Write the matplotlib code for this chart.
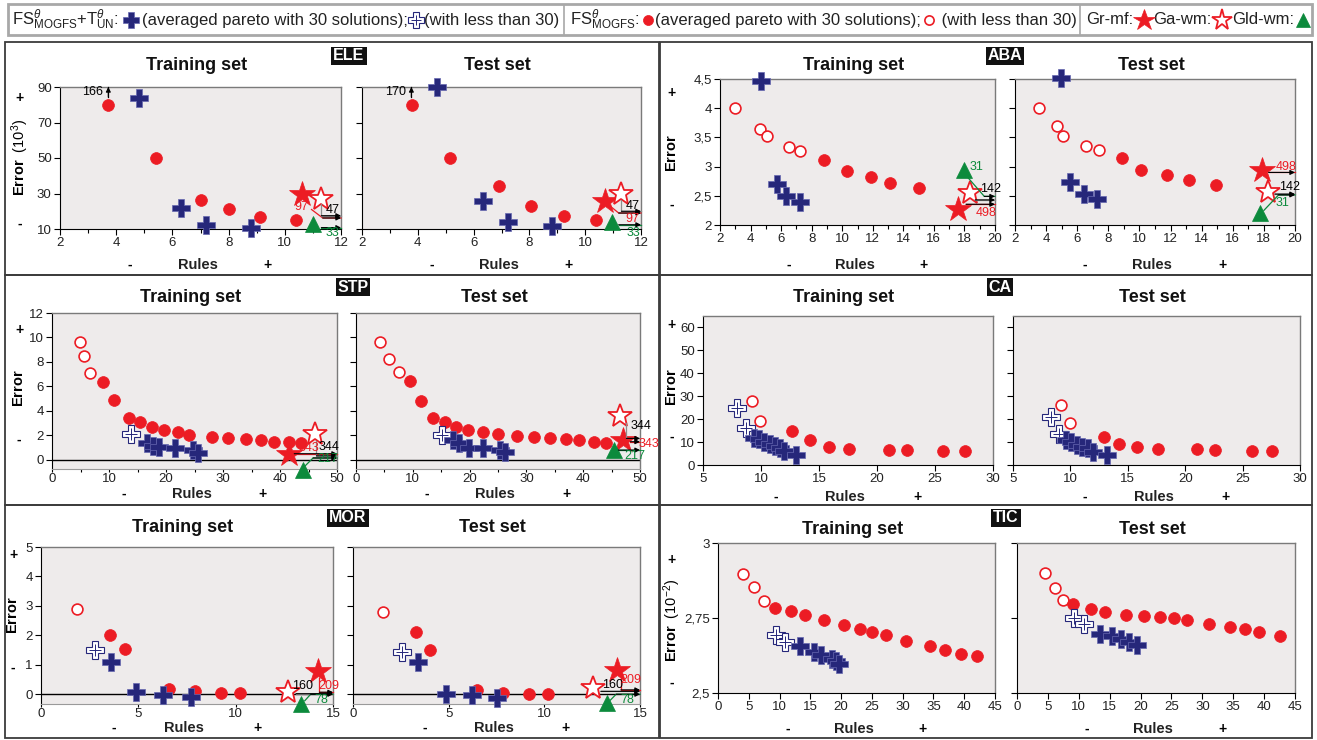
import matplotlib
matplotlib.use('Agg')
import matplotlib.pyplot as plt
from matplotlib.patches import Rectangle
from matplotlib.ticker import MultipleLocator, FuncFormatter

plt.rcParams['font.family'] = ['Liberation Sans', 'DejaVu Sans']
plt.rcParams['mathtext.fontset'] = 'custom'
plt.rcParams['mathtext.rm'] = 'Liberation Sans'
plt.rcParams['mathtext.it'] = 'Liberation Sans:italic'
plt.rcParams['mathtext.bf'] = 'Liberation Sans:bold'

W, H = 1317, 740
RED = '#ec1c24'
NAVY = '#26277a'
GREEN = '#0c8a3c'
GRAY = '#8c8c8c'
BG = '#eeebeb'

# ---- data: (rules, error) pairs ----
# FS_MOGFS filled (30 solutions) / open (less than 30)
# FS_MOGFS+TUN filled crosses / open crosses
# REF = Gr-mf, Ga-wm, Gld-wm
ELE_TR_FS = [(3.7, 80), (5.4, 50), (7.0, 26.5), (8.0, 21), (9.1, 17), (10.4, 15)]
ELE_TR_TUN = [(4.8, 84), (6.3, 22), (7.2, 12), (8.8, 10.5)]
ELE_TR_REF = [(10.6, 30), (11.3, 27), (11.0, 13)]
ELE_TE_FS = [(3.8, 80), (5.15, 50), (6.9, 34), (8.05, 23), (9.25, 17.5), (10.4, 15)]
ELE_TE_TUN = [(4.7, 90), (6.35, 26), (7.25, 14), (8.8, 11.5)]
ELE_TE_REF = [(10.7, 26), (11.3, 30), (10.95, 14)]

ABA_TR_FS_OPEN = [(3.0, 4.0), (4.65, 3.64), (5.05, 3.53), (6.5, 3.34), (7.25, 3.26)]
ABA_TR_FS = [(8.8, 3.12), (10.3, 2.93), (11.9, 2.82), (13.15, 2.72), (15.05, 2.64)]
ABA_TR_TUN = [(4.7, 4.46), (5.7, 2.7), (6.35, 2.5), (7.25, 2.39)]
ABA_TR_REF = [(17.6, 2.28), (18.35, 2.55), (18.0, 2.95)]
ABA_TE_FS_OPEN = [(3.55, 4.0), (4.7, 3.69), (5.1, 3.52), (6.55, 3.36), (7.4, 3.28)]
ABA_TE_FS = [(8.9, 3.14), (10.1, 2.94), (11.8, 2.85), (13.2, 2.77), (14.95, 2.68)]
ABA_TE_TUN = [(4.95, 4.52), (5.55, 2.74), (6.45, 2.53), (7.25, 2.44)]
ABA_TE_REF = [(17.85, 2.94), (18.25, 2.57), (17.75, 2.21)]

STP_TR_FS_OPEN = [(4.9, 9.64), (5.65, 8.47), (6.75, 7.1)]
STP_TR_FS = [(8.9, 6.32), (10.8, 4.85), (13.5, 3.39), (15.5, 3.06), (17.5, 2.65), (19.6, 2.43),
             (22.1, 2.3), (24.0, 2.03), (28.0, 1.84), (30.9, 1.77), (34.0, 1.71), (36.6, 1.62),
             (39.0, 1.49), (41.6, 1.44), (43.6, 1.41)]
STP_TR_TUN_OPEN = [(13.9, 2.09)]
STP_TR_TUN = [(16.6, 1.41), (17.7, 1.17), (18.8, 1.03), (21.6, 0.95), (24.7, 0.82), (25.7, 0.54)]
STP_TR_REF = [(41.6, 0.46), (46.1, 2.09), (44.1, -0.82)]
STP_TE_FS_OPEN = [(4.3, 9.64), (5.75, 8.28), (7.5, 7.14)]
STP_TE_FS = [(9.55, 6.43), (11.4, 4.8), (13.6, 3.39), (15.65, 3.06), (17.65, 2.65), (19.7, 2.43),
             (22.4, 2.3), (25.0, 2.1), (28.3, 1.95), (31.25, 1.84), (34.2, 1.77), (37.0, 1.71),
             (39.3, 1.62), (41.9, 1.49), (44.0, 1.41)]
STP_TE_TUN_OPEN = [(15.1, 2.0)]
STP_TE_TUN = [(17.1, 1.62), (18.2, 1.35), (19.85, 1.0), (22.4, 0.95), (25.4, 0.82), (26.3, 0.6)]
STP_TE_REF = [(47.05, 1.62), (46.5, 3.6), (45.4, 0.82)]

CA_TR_FS_OPEN = [(9.25, 28.1), (9.95, 19.2)]
CA_TR_FS = [(12.65, 14.9), (14.2, 11.1), (15.9, 7.9), (17.6, 7.1), (21.0, 6.7), (22.6, 6.4),
            (25.7, 6.3), (27.55, 6.1)]
CA_TR_TUN_OPEN = [(7.9, 25.0), (8.75, 16.0)]
CA_TR_TUN = [(9.4, 11.8), (9.85, 11.2), (10.25, 10.0), (10.75, 9.3), (11.2, 8.3), (11.6, 7.6),
             (11.95, 6.1), (13.0, 4.4)]
CA_TE_FS_OPEN = [(9.2, 26.2), (10.0, 18.5)]
CA_TE_FS = [(12.9, 12.1), (14.25, 9.0), (15.8, 8.0), (17.6, 7.1), (21.0, 6.8), (22.6, 6.5),
            (25.8, 6.1), (27.6, 6.0)]
CA_TE_TUN_OPEN = [(8.35, 21.1), (9.0, 13.4)]
CA_TE_TUN = [(9.6, 10.9), (10.05, 10.2), (10.55, 8.7), (11.0, 8.0), (11.5, 7.3), (12.0, 5.8),
             (13.2, 4.4)]

MOR_TR_FS_OPEN = [(1.85, 2.9)]
MOR_TR_FS = [(3.55, 2.02), (4.3, 1.54), (6.6, 0.17), (7.9, 0.11), (9.25, 0.06), (10.2, 0.06)]
MOR_TR_TUN_OPEN = [(2.75, 1.49)]
MOR_TR_TUN = [(3.6, 1.09), (4.9, 0.09), (6.25, -0.02), (7.7, -0.08)]
MOR_TR_REF = [(14.25, 0.79), (12.7, 0.09), (13.35, -0.34)]
MOR_TE_FS_OPEN = [(1.55, 2.79)]
MOR_TE_FS = [(3.3, 2.1), (4.05, 1.5), (6.5, 0.13), (7.85, 0.06), (9.2, 0.02), (10.2, 0.0)]
MOR_TE_TUN_OPEN = [(2.55, 1.43)]
MOR_TE_TUN = [(3.4, 1.08), (4.85, 0.02), (6.2, -0.01), (7.55, -0.12)]
MOR_TE_REF = [(13.8, 0.83), (12.55, 0.23), (13.25, -0.3)]

TIC_TR_FS_OPEN = [(4.1, 2.898), (5.9, 2.853), (7.4, 2.806)]
TIC_TR_FS = [(9.2, 2.784), (11.8, 2.772), (14.1, 2.759), (17.3, 2.742), (20.4, 2.726),
             (23.1, 2.714), (24.95, 2.703), (27.3, 2.692), (30.6, 2.672), (34.5, 2.657),
             (36.85, 2.642), (39.4, 2.631), (42.15, 2.622)]
TIC_TR_TUN_OPEN = [(9.5, 2.692), (10.9, 2.67)]
TIC_TR_TUN = [(13.4, 2.657), (15.6, 2.637), (16.8, 2.626), (18.5, 2.614), (19.2, 2.606), (19.7, 2.598)]
TIC_TE_FS_OPEN = [(4.6, 2.9), (6.15, 2.85), (7.45, 2.811)]
TIC_TE_FS = [(9.0, 2.798), (12.05, 2.779), (14.2, 2.77), (17.65, 2.761), (20.5, 2.757),
             (23.2, 2.753), (25.45, 2.751), (27.5, 2.742), (31.1, 2.731), (34.5, 2.72),
             (36.95, 2.712), (39.25, 2.703), (42.5, 2.689)]
TIC_TE_TUN_OPEN = [(9.2, 2.75), (10.9, 2.731)]
TIC_TE_TUN = [(13.4, 2.698), (15.4, 2.689), (16.9, 2.679), (18.1, 2.67), (19.5, 2.661)]

# (fs_full, fs_open, tun_full, tun_open, ref) for training and test
SETS = {
    'ELE': [(ELE_TR_FS, [], ELE_TR_TUN, [], ELE_TR_REF), (ELE_TE_FS, [], ELE_TE_TUN, [], ELE_TE_REF)],
    'ABA': [(ABA_TR_FS, ABA_TR_FS_OPEN, ABA_TR_TUN, [], ABA_TR_REF),
            (ABA_TE_FS, ABA_TE_FS_OPEN, ABA_TE_TUN, [], ABA_TE_REF)],
    'STP': [(STP_TR_FS, STP_TR_FS_OPEN, STP_TR_TUN, STP_TR_TUN_OPEN, STP_TR_REF),
            (STP_TE_FS, STP_TE_FS_OPEN, STP_TE_TUN, STP_TE_TUN_OPEN, STP_TE_REF)],
    'CA': [(CA_TR_FS, CA_TR_FS_OPEN, CA_TR_TUN, CA_TR_TUN_OPEN, []),
           (CA_TE_FS, CA_TE_FS_OPEN, CA_TE_TUN, CA_TE_TUN_OPEN, [])],
    'MOR': [(MOR_TR_FS, MOR_TR_FS_OPEN, MOR_TR_TUN, MOR_TR_TUN_OPEN, MOR_TR_REF),
            (MOR_TE_FS, MOR_TE_FS_OPEN, MOR_TE_TUN, MOR_TE_TUN_OPEN, MOR_TE_REF)],
    'TIC': [(TIC_TR_FS, TIC_TR_FS_OPEN, TIC_TR_TUN, TIC_TR_TUN_OPEN, []),
            (TIC_TE_FS, TIC_TE_FS_OPEN, TIC_TE_TUN, TIC_TE_TUN_OPEN, [])],
}

# off-scale labels: text, text colour, text pos, ha, line colour, path
NOTES = {
    ('ELE', 0): [('166', 'k', (3.55, 87), 'right', 'k', [(3.72, 84.5), (3.72, 90)]),
                 ('97', RED, (10.6, 22.5), 'center', RED, [(10.95, 21), (11.35, 16.2), (12, 16.2)]),
                 ('47', 'k', (11.45, 20.5), 'left', GRAY, [(11.3, 24), (11.3, 17.5), (12, 17.5)]),
                 ('33', GREEN, (11.7, 7.6), 'center', GREEN, [(11.3, 10.8), (12, 10.8)])],
    ('ELE', 1): [('170', 'k', (3.2, 87), 'center', 'k', [(3.77, 84.5), (3.77, 90)]),
                 ('47', 'k', (11.45, 23), 'left', GRAY, [(11.3, 26.5), (11.3, 20), (12, 20)]),
                 ('97', RED, (11.45, 15.5), 'left', RED, [(10.85, 23.5), (11.2, 19), (12, 19)]),
                 ('33', GREEN, (11.5, 8.0), 'left', GREEN, [(11.2, 12.4), (12, 12.4)])],
    ('ABA', 0): [('31', GREEN, (18.35, 3.0), 'left', GREEN, [(18.1, 2.85), (19.3, 2.49), (20, 2.49)]),
                 ('142', 'k', (19.05, 2.61), 'left', GRAY, [(18.7, 2.43), (20, 2.43)]),
                 ('498', RED, (18.75, 2.2), 'left', RED, [(18.1, 2.355), (20, 2.355)])],
    ('ABA', 1): [('498', RED, (18.75, 3.0), 'left', RED, [(18.3, 2.9), (20, 2.9)]),
                 ('142', 'k', (19.0, 2.65), 'left', GRAY, [(18.7, 2.53), (20, 2.53)]),
                 ('31', GREEN, (18.75, 2.37), 'left', GREEN, [(18.0, 2.25), (18.94, 2.515), (20, 2.515)])],
    ('STP', 0): [('343', RED, (43.2, 1.0), 'left', RED, [(42.5, 0.5), (50, 0.5)]),
                 ('344', 'k', (46.8, 1.05), 'left', GRAY, [(46.4, 1.5), (46.4, 0.33), (50, 0.33)]),
                 ('217', GREEN, (46.6, 0.05), 'left', GREEN, [(44.4, -0.5), (45.8, 0.15), (50, 0.15)])],
    ('STP', 1): [('344', 'k', (48.4, 2.75), 'left', GRAY, [(47.6, 3.0), (47.6, 1.75), (50, 1.75)]),
                 ('343', RED, (49.8, 1.3), 'left', RED, [(48.3, 1.48), (50, 1.48)]),
                 ('217', GREEN, (47.3, 0.3), 'left', GREEN, [(46.2, 0.8), (50, 0.8)])],
    ('MOR', 0): [('160', 'k', (13.45, 0.28), 'center', GRAY, [(13.1, 0.02), (15, 0.02)]),
                 ('209', RED, (14.8, 0.28), 'center', RED, [(14.3, 0.55), (14.3, 0.07), (15, 0.07)]),
                 ('78', GREEN, (14.4, -0.2), 'center', GREEN, [(13.55, -0.22), (13.85, 0.0), (15, 0.0)])],
    ('MOR', 1): [('160', 'k', (13.55, 0.3), 'center', GRAY, [(12.95, 0.1), (15, 0.1)]),
                 ('209', RED, (14.5, 0.5), 'center', RED, [(14.0, 0.55), (14.0, 0.15), (15, 0.15)]),
                 ('78', GREEN, (14.35, -0.2), 'center', GREEN, [(13.45, -0.2), (13.75, 0.0), (15, 0.0)])],
}

# panel layout in pixels
LAYOUT = {
    'ELE': dict(frame=(5, 42, 659, 275), box=(349, 56), title_y=65, rules_y=265,
                xs=[(60, 341), (362, 641)], yspan=(87, 229), xlim=(2, 12), xmaj=2, xmin=1,
                ylim=(10, 90), yticks=[10, 30, 50, 70, 90],
                ylab=r'$\bf{Error}$  (10$^{3}$)', ylab_xy=(20, 157), pm=(98, 224)),
    'ABA': dict(frame=(660, 42, 1312, 275), box=(1005, 56), title_y=65, rules_y=265,
                xs=[(720, 995), (1015, 1295)], yspan=(79, 225), xlim=(2, 20), xmaj=2, xmin=1,
                ylim=(2, 4.5), yticks=[2, 2.5, 3, 3.5, 4, 4.5],
                ylab=r'$\bf{Error}$', ylab_xy=(672, 153), pm=(93, 205)),
    'STP': dict(frame=(5, 275, 659, 505), box=(353, 287), title_y=298, rules_y=494,
                xs=[(52, 337), (356, 640)], yspan=(313, 469), xlim=(0, 50), xmaj=10, xmin=5,
                ylim=(-0.75, 12), yticks=[0, 2, 4, 6, 8, 10, 12],
                ylab=r'$\bf{Error}$', ylab_xy=(19, 388), pm=(330, 440)),
    'CA': dict(frame=(660, 275, 1312, 505), box=(1000, 287), title_y=298, rules_y=497,
               xs=[(703, 993), (1013, 1300)], yspan=(316, 465), xlim=(5, 30), xmaj=5, xmin=None,
               ylim=(0, 65), yticks=[0, 10, 20, 30, 40, 50, 60],
               ylab=r'$\bf{Error}$', ylab_xy=(672, 387), pm=(325, 437)),
    'MOR': dict(frame=(5, 505, 659, 738), box=(348, 518), title_y=528, rules_y=728,
                xs=[(41, 333), (353, 640)], yspan=(547, 704), xlim=(0, 15), xmaj=5, xmin=None,
                ylim=(-0.33, 5), yticks=[0, 1, 2, 3, 4, 5],
                ylab=r'$\bf{Error}$', ylab_xy=(13, 615), pm=(555, 668)),
    'TIC': dict(frame=(660, 505, 1312, 738), box=(1006, 518), title_y=530, rules_y=729,
                xs=[(718, 995), (1017, 1295)], yspan=(543, 693), xlim=(0, 45), xmaj=5, xmin=None,
                ylim=(2.5, 3), yticks=[2.5, 2.75, 3],
                ylab=r'$\bf{Error}$  (10$^{-2}$)', ylab_xy=(672, 620), pm=(560, 683)),
}


def marks(ax, pts, kind, scale=1.0):
    if not pts:
        return
    xs, ys = zip(*pts)
    kw = dict(linestyle='none', clip_on=False, zorder=4)
    if kind == 'cross':
        ax.plot(xs, ys, marker='P', ms=13 * scale, mfc=NAVY, mec='#6667b0', mew=0.5, **kw)
    elif kind == 'ocross':
        ax.plot(xs, ys, marker='P', ms=13 * scale, mfc='white', mec=NAVY, mew=0.8, **kw)
        ax.plot(xs, ys, marker='+', ms=8 * scale, mec=NAVY, mew=0.7, **kw)
    elif kind == 'dot':
        ax.plot(xs, ys, marker='o', ms=8.5 * scale, mfc=RED, mec=RED, mew=0.5, **kw)
    elif kind == 'odot':
        ax.plot(xs, ys, marker='o', ms=7.8 * scale, mfc='white', mec=RED, mew=1.2, **kw)
    elif kind == 'star':
        ax.plot(xs, ys, marker='*', ms=19 * scale, mfc=RED, mec=RED, mew=0.5, **kw)
    elif kind == 'ostar':
        ax.plot(xs, ys, marker='*', ms=18 * scale, mfc='white', mec=RED, mew=1.3, **kw)
    elif kind == 'tri':
        ax.plot(xs, ys, marker='^', ms=12 * scale, mfc=GREEN, mec=GREEN, mew=0.5, **kw)


fig = plt.figure(figsize=(W / 100, H / 100), dpi=100)
fig.patch.set_facecolor('white')

ov = fig.add_axes([0, 0, 1, 1], zorder=0)
ov.set_xlim(0, W)
ov.set_ylim(H, 0)
ov.axis('off')

# ---- legend strip ----
ov.add_patch(Rectangle((8, 4), 1304, 31, fill=False, ec='#a8a8a8', lw=2))
legend_items = [
    ('t', r'FS$_{\mathrm{MOGFS}}^{\theta}$+T$_{\mathrm{UN}}^{\theta}$: '), ('m', 'cross', 22),
    ('t', '(averaged pareto with 30 solutions);'), ('m', 'ocross', 16), ('t', '(with less than 30)'),
    ('sep',),
    ('t', r'FS$_{\mathrm{MOGFS}}^{\theta}$: '), ('m', 'dot', 14),
    ('t', '(averaged pareto with 30 solutions);'), ('m', 'odot', 16), ('t', ' (with less than 30)'),
    ('sep',),
    ('t', 'Gr-mf:'), ('m', 'star', 20), ('t', 'Ga-wm:'), ('m', 'ostar', 20), ('t', 'Gld-wm:'),
    ('m', 'tri', 18),
]
renderer = fig.canvas.get_renderer()


def text_widths(size):
    ws = []
    for it in legend_items:
        if it[0] == 't':
            t = ov.text(0, 0, it[1], fontsize=size)
            ws.append(t.get_window_extent(renderer).width)
            t.remove()
        else:
            ws.append(0)
    return ws


base = 11.0
tw = sum(text_widths(base))
fixed = sum(it[2] for it in legend_items if it[0] == 'm') + 10 * sum(1 for it in legend_items if it[0] == 'sep')
leg_fs = base * (1296 - fixed) / tw
ws = text_widths(leg_fs)
x = 12
LY = 20
for it, w in zip(legend_items, ws):
    if it[0] == 't':
        ov.text(x, LY, it[1], fontsize=leg_fs, va='center', ha='left', color='#222222')
        x += w
    elif it[0] == 'm':
        marks(ov, [(x + it[2] / 2, LY)], it[1], scale=0.85)
        x += it[2]
    else:
        ov.plot([x + 4, x + 4], [5, 34], color='#a8a8a8', lw=1.2)
        x += 10


def fmt_comma(v, pos):
    return ('%g' % v).replace('.', ',')


for name, L in LAYOUT.items():
    fx0, fy0, fx1, fy1 = L['frame']
    ov.add_patch(Rectangle((fx0, fy0), fx1 - fx0, fy1 - fy0, fill=False, ec='#3c3c3c', lw=1.3))
    ov.text(L['box'][0], L['box'][1], name, color='white', fontsize=11.5, fontweight='bold',
            ha='center', va='center',
            bbox=dict(boxstyle='square,pad=0.12', fc='#111111', ec='none'))
    ov.text(*L['ylab_xy'], L['ylab'], rotation=90, fontsize=10.5, ha='center', va='center')
    ov.text(L['ylab_xy'][0], L['pm'][0], '+', fontsize=10, fontweight='bold', ha='center', va='center')
    ov.text(L['ylab_xy'][0], L['pm'][1], '-', fontsize=10, fontweight='bold', ha='center', va='center')

    yt, yb = L['yspan']
    below_zero = L['ylim'][0] < 0
    for k, (x0, x1) in enumerate(L['xs']):
        ax = fig.add_axes([x0 / W, 1 - yb / H, (x1 - x0) / W, (yb - yt) / H], zorder=2)
        ax.set_facecolor(BG)
        ax.set_xlim(*L['xlim'])
        ax.set_ylim(*L['ylim'])
        ax.xaxis.set_major_locator(MultipleLocator(L['xmaj']))
        if L['xmin']:
            ax.xaxis.set_minor_locator(MultipleLocator(L['xmin']))
        ax.set_yticks(L['yticks'])
        ax.yaxis.set_major_formatter(FuncFormatter(fmt_comma))
        ax.xaxis.set_major_formatter(FuncFormatter(fmt_comma))
        ax.tick_params(which='both', direction='out', labelsize=9.5, length=4, width=0.8,
                       pad=2, colors='black', labelcolor='#222222')
        ax.tick_params(which='minor', length=3)
        if below_zero:
            ax.tick_params(axis='x', which='both', length=2, pad=1)
        if k == 1:
            ax.tick_params(labelleft=False)
        for s in ('top', 'right'):
            ax.spines[s].set_color('#7a7a7a')
            ax.spines[s].set_linewidth(1.0)
        ax.spines['left'].set_color('black')
        if below_zero:
            ax.spines['bottom'].set_color('#9a9a9a')
            ax.axhline(0, color='black', lw=1.0, zorder=1)
        else:
            ax.spines['bottom'].set_color('black')

        fs_full, fs_open, tun_full, tun_open, ref = SETS[name][k]
        marks(ax, fs_open, 'odot')
        marks(ax, fs_full, 'dot')
        marks(ax, tun_open, 'ocross')
        marks(ax, tun_full, 'cross')
        if ref:
            marks(ax, [ref[0]], 'star')
            marks(ax, [ref[1]], 'ostar')
            marks(ax, [ref[2]], 'tri')

        for label, tc, (tx, ty), ha, lc, path in NOTES.get((name, k), []):
            px, py = zip(*path)
            ax.plot(px, py, color=lc, lw=0.9, clip_on=False, zorder=5)
            ax.annotate('', xy=path[-1], xytext=path[-2], annotation_clip=False,
                        arrowprops=dict(arrowstyle='-|>', color='black', lw=0.8,
                                        mutation_scale=7, shrinkA=0, shrinkB=0), zorder=6)
            ax.text(tx, ty, label, color=tc, fontsize=9, ha=ha, va='center', zorder=6,
                    clip_on=False)

        xc = (x0 + x1) / 2
        ov.text(xc - 4, L['title_y'], 'Training set' if k == 0 else 'Test set', fontsize=13,
                fontweight='bold', ha='center', va='center', color='#111111')
        wdt = x1 - x0
        ov.text(x0 + 0.25 * wdt, L['rules_y'], '-', fontsize=10, fontweight='bold', ha='center', va='center')
        ov.text(x0 + 0.49 * wdt, L['rules_y'], 'Rules', fontsize=10.5, fontweight='bold', ha='center',
                va='center', color='#222222')
        ov.text(x0 + 0.74 * wdt, L['rules_y'], '+', fontsize=10, fontweight='bold', ha='center', va='center')

fig.savefig('out.png', dpi=100, facecolor='white')
